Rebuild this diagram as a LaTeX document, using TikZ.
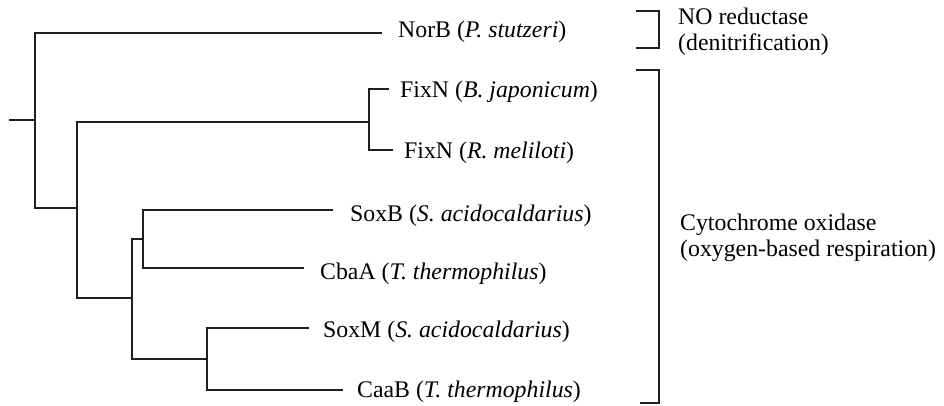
\documentclass[tikz,border=0pt]{standalone}
\usepackage{fontspec}
\setmainfont{Liberation Serif}
\begin{document}
\begin{tikzpicture}[x=1pt,y=-1pt,
  branch/.style={draw=black!88,line width=1.7pt,line join=miter},
  leaf/.style={anchor=base west,inner sep=0pt,font=\fontsize{23.8}{26}\selectfont},
  group/.style={anchor=base west,inner sep=0pt,align=left,font=\fontsize{23.8}{26}\selectfont}]
\useasboundingbox (0,0) rectangle (944,405);
% tree coordinates
\coordinate (stub) at (9,120);
\coordinate (R) at (35,120);
\coordinate (N1) at (77,208);
\coordinate (F) at (369,122);
\coordinate (S) at (132,298);
\coordinate (S1) at (143,239);
\coordinate (S2) at (207,359);
\coordinate (eNorB) at (382,33);
\coordinate (eFixB) at (389,89);
\coordinate (eFixR) at (393,150);
\coordinate (eSoxB) at (333,210);
\coordinate (eCbaA) at (304,268);
\coordinate (eSoxM) at (309,328);
\coordinate (eCaaB) at (343,390);
% labels
\node[leaf] (NorB) at (398,37) {NorB (\textit{P. stutzeri})};
\node[leaf] (FixB) at (400,97) {FixN (\textit{B. japonicum})};
\node[leaf] (FixR) at (404,158) {FixN (\textit{R. meliloti})};
\node[leaf] (SoxB) at (350,221) {SoxB (\textit{S. acidocaldarius})};
\node[leaf] (CbaA) at (320,279) {CbaA (\textit{T. thermophilus})};
\node[leaf] (SoxM) at (323,337) {SoxM (\textit{S. acidocaldarius})};
\node[leaf] (CaaB) at (357,397) {CaaB (\textit{T. thermophilus})};
% branches
\draw[branch] (stub) -- (R);
\draw[branch] (R) |- (eNorB);
\draw[branch] (R) |- (N1);
\draw[branch] (N1) |- (F);
\draw[branch] (N1) |- (S);
\draw[branch] (F) |- (eFixB);
\draw[branch] (F) |- (eFixR);
\draw[branch] (S) |- (S1);
\draw[branch] (S) |- (S2);
\draw[branch] (S1) |- (eSoxB);
\draw[branch] (S1) |- (eCbaA);
\draw[branch] (S2) |- (eSoxM);
\draw[branch] (S2) |- (eCaaB);
% brackets
\coordinate (b1a) at (636,11);
\coordinate (b1b) at (636,48);
\coordinate (b2a) at (636,70);
\coordinate (b2b) at (640,403);
\draw[branch] (b1a) -- (659,11) -- (659,48) -- (b1b);
\draw[branch] (b2a) -- (659,70) -- (659,403) -- (b2b);
\node[group] (NOred) at (678,50) {NO reductase\\(denitrification)};
\node[group] (Cyto) at (680,256) {Cytochrome oxidase\\(oxygen-based respiration)};
\end{tikzpicture}
\end{document}
